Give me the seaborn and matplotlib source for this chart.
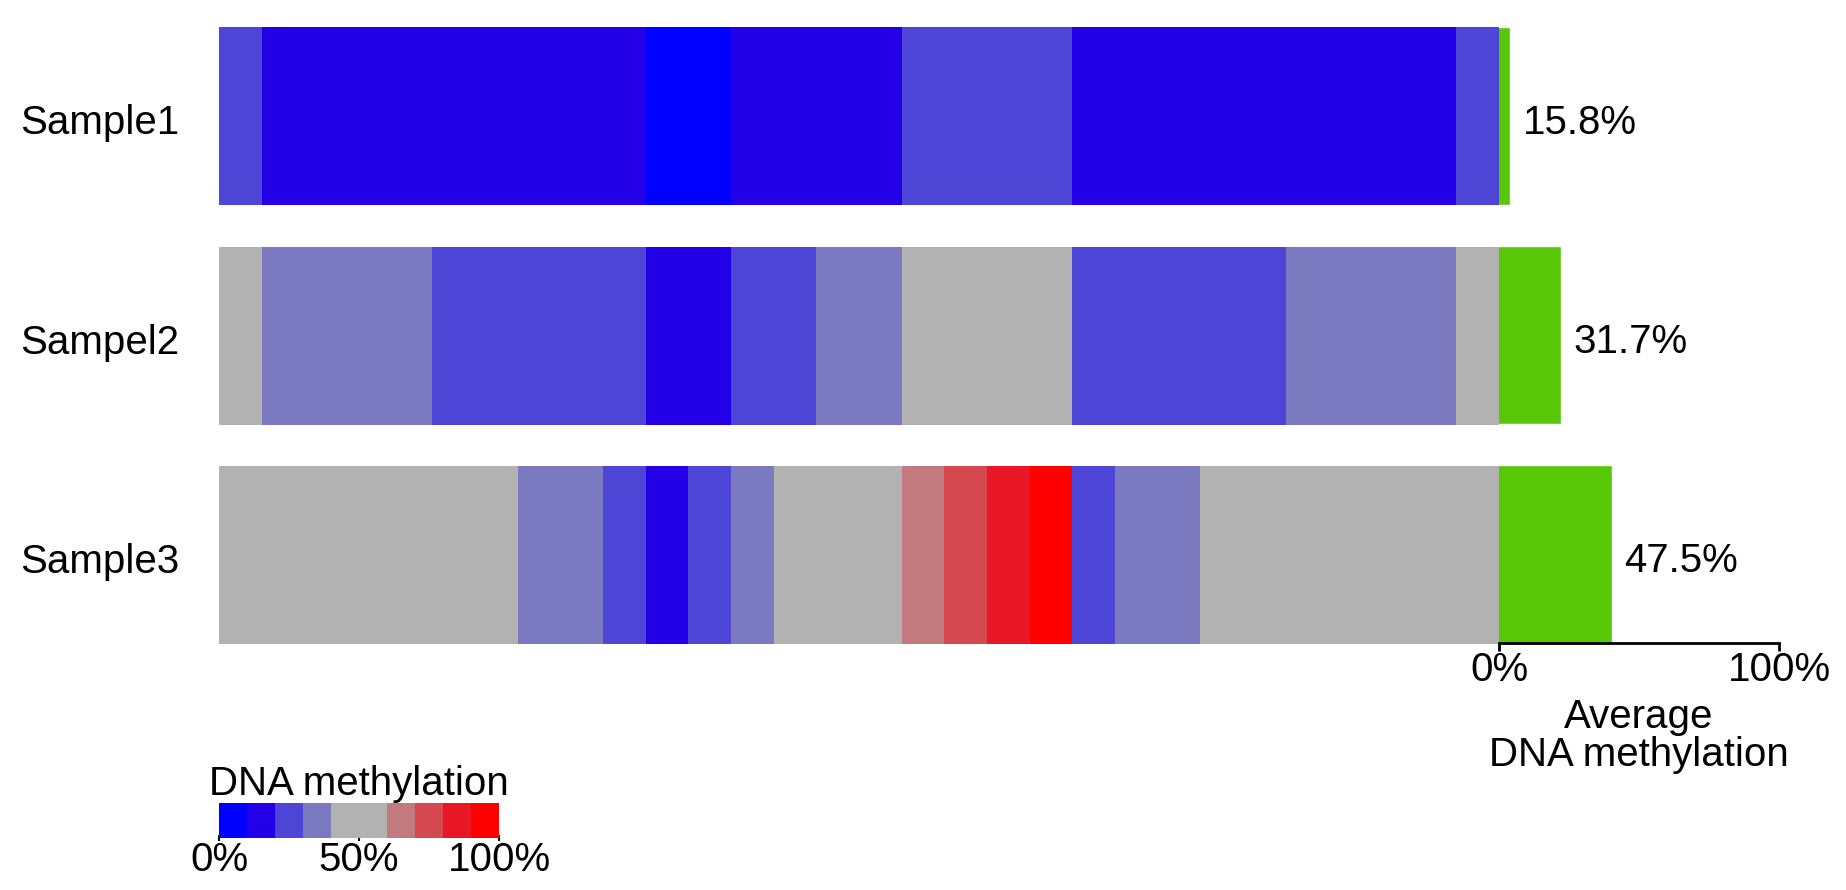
import numpy as np
import matplotlib.pyplot as plt
import seaborn as sns
from matplotlib.colors import ListedColormap, Normalize
from matplotlib.cm import ScalarMappable
from matplotlib.transforms import ScaledTranslation

# methylation level (%) of each of the 30 CpG sites per sample
samples = ["Sample1", "Sampel2", "Sample3"]
sample1 = [25, 15, 15, 15, 15, 15, 15, 15, 15, 15, 5, 5, 15, 15, 15,
           15, 25, 25, 25, 25, 15, 15, 15, 15, 15, 15, 15, 15, 15, 25]
sample2 = [50, 35, 35, 35, 35, 25, 25, 25, 25, 25, 15, 15, 25, 25, 35,
           35, 50, 50, 50, 50, 25, 25, 25, 25, 25, 35, 35, 35, 35, 50]
sample3 = [50, 50, 50, 50, 50, 50, 50, 35, 35, 25, 15, 25, 35, 50, 50,
           50, 65, 75, 85, 95, 25, 35, 35, 50, 50, 50, 50, 50, 50, 50]
avg_meth = [15.8, 31.7, 47.5]

colors = ["#0000FF", "#2400E8", "#4C45D5", "#7B79C0", "#B2B2B2",
          "#B2B2B2", "#C27A7E", "#D5484F", "#E81726", "#FF0000"]
bar_color = "#58C706"

sns.set_style("white")
plt.rcParams["font.family"] = ["Liberation Sans", "DejaVu Sans"]
plt.rcParams["text.color"] = "black"
plt.rcParams["axes.labelcolor"] = "black"
plt.rcParams["xtick.color"] = "black"
plt.rcParams["ytick.color"] = "black"
FS = 29

W, H = 1846, 890
fig = plt.figure(figsize=(W / 100, H / 100), dpi=100)


def px_box(left, top, width, height):
    return [left / W, 1 - (top + height) / H, width / W, height / H]


cmap = ListedColormap(colors)
shift_down = ScaledTranslation(0, -5 / 72, fig.dpi_scale_trans)

# average methylation bars (drawn first, heatmap covers their base)
ax_bar = fig.add_axes(px_box(1459.3, 27, 320.7, 616))
sns.barplot(x=avg_meth, y=samples, ax=ax_bar, color=bar_color,
            saturation=1, width=0.811, orient="h")
ax_bar.set_xlim(0, 100)
ax_bar.set_ylim(2.4055, -0.4055)
ax_bar.axis("off")
for i, v in enumerate(avg_meth):
    ax_bar.annotate(f"{v}%", xy=(v, i), xytext=(9, -5),
                    textcoords="offset points", va="center", ha="left",
                    fontsize=FS)

# one heatmap strip per sample
rows = [sample1, sample2, sample3]
tops = [27, 247, 466]
for name, row, top in zip(samples, rows, tops):
    ax = fig.add_axes(px_box(219, top, 1280, 178))
    sns.heatmap(np.array([row]), ax=ax, cmap=cmap, vmin=0, vmax=100,
                cbar=False, xticklabels=False, yticklabels=[name])
    ax.set_yticklabels([name], rotation=0, ha="left", va="center",
                       fontsize=FS)
    ax.tick_params(axis="y", length=0, pad=143)
    for lab in ax.get_yticklabels():
        lab.set_transform(lab.get_transform() + shift_down)

# scale for the average bars
ax_sc = fig.add_axes(px_box(1499, 642, 280, 1))
ax_sc.set_xlim(0, 100)
ax_sc.set_xticks([0, 100])
ax_sc.set_xticklabels(["0%", "100%"], fontsize=FS)
ax_sc.set_yticks([])
ax_sc.patch.set_visible(False)
for s in ["top", "left", "right"]:
    ax_sc.spines[s].set_visible(False)
ax_sc.spines["bottom"].set_linewidth(2)
ax_sc.spines["bottom"].set_color("black")
ax_sc.tick_params(axis="x", direction="out", length=5.5, width=2,
                  pad=0, bottom=True)
ax_sc.set_xlabel("Average\nDNA methylation", fontsize=FS,
                 linespacing=1.0, labelpad=6.5)

# colour key
cax = fig.add_axes(px_box(219, 803, 280, 35))
cb = fig.colorbar(ScalarMappable(norm=Normalize(0, 100), cmap=cmap),
                  cax=cax, orientation="horizontal", ticks=[0, 50, 100])
cb.outline.set_visible(False)
cb.ax.set_xticklabels(["0%", "50%", "100%"], fontsize=FS)
cb.ax.tick_params(direction="inout", length=5, width=1.5, pad=0)
cax.set_title("DNA methylation", fontsize=FS, pad=3)

fig.savefig("out.png", dpi=100)
plt.close(fig)
